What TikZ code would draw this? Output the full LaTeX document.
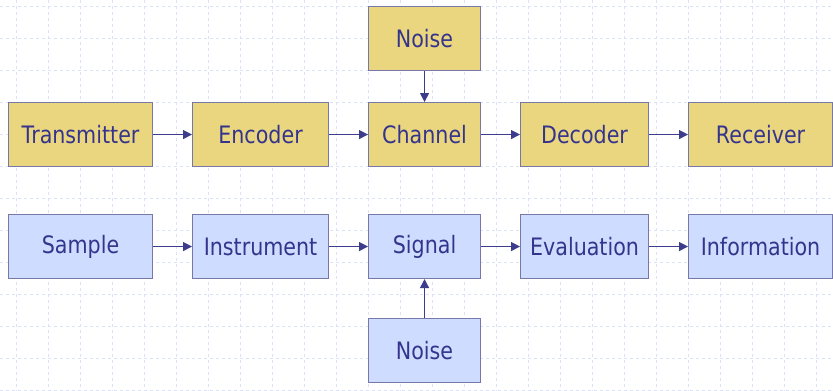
\documentclass[tikz,border=0pt]{standalone}
\usepackage{fontspec}
\setmainfont{DejaVu Sans}[FakeStretch=0.86]
\usetikzlibrary{arrows.meta}
\definecolor{boxyellow}{RGB}{235,214,128}
\definecolor{boxblue}{RGB}{206,221,255}
\definecolor{boxedge}{RGB}{120,120,168}
\definecolor{txtblue}{RGB}{52,52,140}
\definecolor{arrowblue}{RGB}{60,60,140}
\definecolor{gridblue}{RGB}{218,226,250}
\tikzset{
  blockbox/.style={draw=boxedge, line width=1.1pt, minimum height=64pt, inner sep=0pt,
    text=txtblue, font=\fontsize{24pt}{28pt}\selectfont, anchor=north west},
  ybox/.style={blockbox, fill=boxyellow},
  bbox/.style={blockbox, fill=boxblue},
  flow/.style={draw=arrowblue, line width=1.2pt, -{Triangle[length=9pt,width=9pt]}},
}
\begin{document}
\begin{tikzpicture}[x=1pt,y=-1pt]
\useasboundingbox (0,0) rectangle (833,391);
\fill[white] (0,0) rectangle (833,391);
\foreach \gx in {16,48,...,832} \draw[gridblue, dashed, line width=0.6pt] (\gx,0) -- (\gx,391);
\foreach \gy in {6,38,...,391} \draw[gridblue, dashed, line width=0.6pt] (0,\gy) -- (833,\gy);
% top row
\node[ybox, minimum width=144pt] (tx) at (8,102) {Transmitter};
\node[ybox, minimum width=136pt] (enc) at (192,102) {Encoder};
\node[ybox, minimum width=112pt] (ch) at (368,102) {Channel};
\node[ybox, minimum width=128pt] (dec) at (520,102) {Decoder};
\node[ybox, minimum width=144pt] (rx) at (688,102) {Receiver};
\node[ybox, minimum width=112pt] (n1) at (368,6) {Noise};
% bottom row
\node[bbox, minimum width=144pt] (sa) at (8,214) {Sample};
\node[bbox, minimum width=136pt] (ins) at (192,214) {Instrument};
\node[bbox, minimum width=112pt] (sig) at (368,214) {Signal};
\node[bbox, minimum width=128pt] (ev) at (520,214) {Evaluation};
\node[bbox, minimum width=144pt] (inf) at (688,214) {Information};
\node[bbox, minimum width=112pt] (n2) at (368,318) {Noise};
% arrows
\draw[flow] (tx) -- (enc);
\draw[flow] (enc) -- (ch);
\draw[flow] (ch) -- (dec);
\draw[flow] (dec) -- (rx);
\draw[flow] (n1) -- (ch);
\draw[flow] (sa) -- (ins);
\draw[flow] (ins) -- (sig);
\draw[flow] (sig) -- (ev);
\draw[flow] (ev) -- (inf);
\draw[flow] (n2) -- (sig);
\end{tikzpicture}
\end{document}
